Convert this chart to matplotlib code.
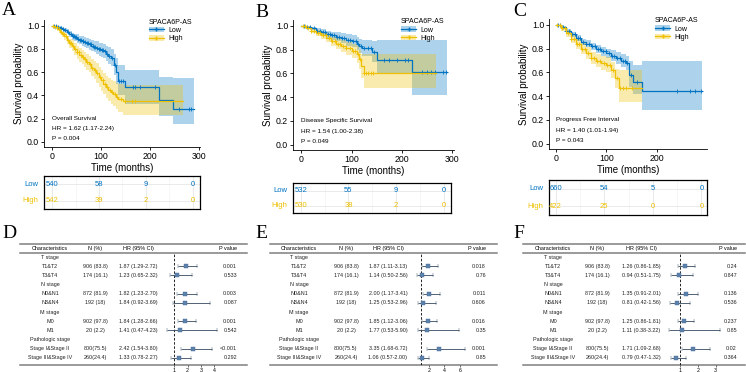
import numpy as np
import matplotlib.pyplot as plt
from matplotlib.lines import Line2D
from matplotlib.patches import Patch

plt.rcParams["font.family"] = ["Liberation Sans", "DejaVu Sans"]

BLUE = "#0073C2"
YELLOW = "#EFC000"
W, H = 746, 372

# ---------------- Kaplan-Meier data ----------------
# Panel A: Overall Survival
a_low_t = [0, 5, 10, 15, 20, 25, 30, 35, 40, 45, 50, 55, 60, 65, 70, 75, 80, 85, 90, 95,
           100, 105, 110, 115, 120, 126, 131, 134, 150, 218, 248]
a_low_s = [1.0, 0.998, 0.99, 0.985, 0.975, 0.965, 0.95, 0.93, 0.91, 0.90, 0.89, 0.88, 0.87,
           0.86, 0.85, 0.84, 0.83, 0.82, 0.81, 0.80, 0.79, 0.78, 0.76, 0.74, 0.72, 0.66,
           0.60, 0.52, 0.475, 0.36, 0.285]
a_low_lo = [1.0, 0.995, 0.985, 0.975, 0.96, 0.945, 0.93, 0.905, 0.88, 0.865, 0.855, 0.845,
            0.83, 0.82, 0.81, 0.795, 0.78, 0.77, 0.755, 0.74, 0.73, 0.72, 0.70, 0.67, 0.65,
            0.58, 0.50, 0.40, 0.33, 0.22, 0.15]
a_low_hi = [1.0, 1.0, 0.998, 0.995, 0.99, 0.985, 0.97, 0.955, 0.94, 0.93, 0.925, 0.915,
            0.91, 0.90, 0.895, 0.885, 0.88, 0.87, 0.865, 0.855, 0.85, 0.84, 0.83, 0.815,
            0.80, 0.76, 0.72, 0.66, 0.62, 0.56, 0.55]
a_low_end = 290
a_low_cens = [3, 8, 12, 18, 22, 27, 33, 38, 42, 44, 47, 49, 52, 56, 58, 62, 64, 67, 71, 73, 77,
              79, 83, 86, 88, 92, 96, 98, 102, 104, 108, 112, 117, 122, 128, 137, 140, 145,
              165, 170, 180, 210, 260, 280, 285]

a_high_t = [0, 5, 10, 15, 20, 25, 30, 35, 40, 45, 50, 55, 60, 65, 70, 75, 80, 85, 90, 95,
            100, 105, 110, 115, 120, 125, 130, 135, 145]
a_high_s = [1.0, 0.99, 0.97, 0.95, 0.93, 0.91, 0.88, 0.85, 0.83, 0.80, 0.77, 0.75, 0.73,
            0.71, 0.69, 0.67, 0.64, 0.62, 0.59, 0.56, 0.53, 0.50, 0.47, 0.45, 0.43, 0.41,
            0.39, 0.37, 0.35]
a_high_lo = [1.0, 0.98, 0.955, 0.93, 0.905, 0.88, 0.845, 0.81, 0.785, 0.75, 0.715, 0.69,
             0.67, 0.645, 0.62, 0.60, 0.565, 0.54, 0.505, 0.475, 0.44, 0.41, 0.375, 0.35,
             0.33, 0.31, 0.28, 0.26, 0.23]
a_high_hi = [1.0, 0.998, 0.985, 0.97, 0.955, 0.94, 0.915, 0.89, 0.875, 0.85, 0.825, 0.81,
             0.79, 0.775, 0.76, 0.74, 0.715, 0.70, 0.675, 0.645, 0.62, 0.595, 0.57, 0.55,
             0.53, 0.52, 0.51, 0.50, 0.49]
a_high_end = 268
a_high_cens = [2, 6, 9, 13, 17, 21, 24, 28, 32, 36, 39, 43, 46, 51, 54, 58, 62, 67, 72, 77,
               82, 87, 92, 98, 103, 108, 113, 118, 123, 128, 132, 140, 150, 163, 170]

# Panel B: Disease Specific Survival
b_low_t = [0, 10, 20, 30, 40, 50, 60, 70, 80, 90, 100, 110, 115, 120, 140, 150, 220]
b_low_s = [1.0, 0.99, 0.98, 0.96, 0.95, 0.93, 0.92, 0.91, 0.90, 0.88, 0.87, 0.85, 0.83,
           0.81, 0.78, 0.71, 0.61]
b_low_lo = [1.0, 0.98, 0.965, 0.94, 0.925, 0.90, 0.885, 0.87, 0.86, 0.835, 0.82, 0.795,
            0.77, 0.745, 0.70, 0.60, 0.42]
b_low_hi = [1.0, 0.998, 0.993, 0.98, 0.972, 0.96, 0.953, 0.947, 0.94, 0.93, 0.92, 0.905,
            0.89, 0.88, 0.87, 0.88, 0.88]
b_low_end = 290
b_low_cens = [5, 12, 18, 25, 31, 37, 43, 48, 53, 57, 62, 66, 72, 76, 82, 86, 92, 97, 103,
              108, 113, 118, 125, 132, 138, 145, 165, 175, 190, 205, 212, 240, 250, 258,
              265, 282, 288]

b_high_t = [0, 10, 20, 30, 40, 50, 60, 70, 80, 90, 100, 110, 115, 118, 124]
b_high_s = [1.0, 0.985, 0.96, 0.94, 0.92, 0.90, 0.87, 0.85, 0.83, 0.81, 0.79, 0.76, 0.72,
            0.66, 0.60]
b_high_lo = [1.0, 0.97, 0.94, 0.915, 0.89, 0.865, 0.83, 0.805, 0.78, 0.755, 0.73, 0.69,
             0.64, 0.56, 0.48]
b_high_hi = [1.0, 0.997, 0.98, 0.965, 0.95, 0.935, 0.91, 0.895, 0.88, 0.865, 0.85, 0.83,
             0.80, 0.76, 0.76]
b_high_end = 268
b_high_cens = [3, 8, 14, 20, 26, 33, 38, 44, 49, 55, 61, 67, 73, 78, 84, 90, 96, 102, 107,
               112, 116, 125, 128, 132, 138, 143]

# Panel C: Progress Free Interval
c_low_t = [0, 10, 20, 30, 40, 50, 60, 70, 80, 90, 100, 110, 120, 130, 140, 145, 152, 170]
c_low_s = [1.0, 0.98, 0.95, 0.92, 0.89, 0.86, 0.84, 0.82, 0.80, 0.78, 0.76, 0.74, 0.72,
           0.70, 0.68, 0.58, 0.52, 0.44]
c_low_lo = [1.0, 0.97, 0.935, 0.90, 0.865, 0.835, 0.81, 0.79, 0.765, 0.74, 0.72, 0.695,
            0.67, 0.645, 0.62, 0.48, 0.42, 0.28]
c_low_hi = [1.0, 0.99, 0.965, 0.94, 0.915, 0.885, 0.87, 0.85, 0.835, 0.815, 0.80, 0.785,
            0.77, 0.755, 0.74, 0.70, 0.66, 0.70]
c_low_end = 290
c_low_cens = [4, 9, 15, 21, 27, 33, 38, 44, 49, 55, 61, 66, 72, 77, 83, 88, 94, 99, 105,
              111, 116, 122, 127, 133, 138, 142, 148, 160, 240, 265, 275, 288]

c_high_t = [0, 10, 20, 30, 40, 50, 60, 70, 80, 90, 100, 110, 118, 125]
c_high_s = [1.0, 0.97, 0.93, 0.88, 0.84, 0.80, 0.76, 0.72, 0.70, 0.68, 0.665, 0.62, 0.55, 0.47]
c_high_lo = [1.0, 0.95, 0.90, 0.85, 0.80, 0.755, 0.71, 0.67, 0.645, 0.62, 0.60, 0.55, 0.47, 0.35]
c_high_hi = [1.0, 0.985, 0.955, 0.915, 0.88, 0.845, 0.81, 0.775, 0.755, 0.74, 0.73, 0.69,
             0.63, 0.62]
c_high_end = 170
c_high_cens = [3, 8, 13, 19, 24, 30, 36, 42, 47, 53, 58, 64, 70, 76, 82, 88, 95, 102, 108,
               114, 121, 127, 133, 140, 150]

# risk tables
risk_times = [0, 96, 192, 288]
a_risk_low = [540, 58, 9, 0]
a_risk_high = [542, 39, 2, 0]
b_risk_low = [532, 55, 9, 0]
b_risk_high = [530, 38, 2, 0]
c_risk_low = [660, 54, 5, 0]
c_risk_high = [422, 25, 0, 0]

# ---------------- Forest (Cox) tables ----------------
row_labels = ["T stage", "T1&T2", "T3&T4", "N stage", "N0&N1", "N3&N4",
              "M stage", "M0", "M1", "Pathologic stage", "Stage I&Stage II", "Stage III&Stage IV"]
data_rows = [1, 2, 4, 5, 7, 8, 10, 11]
n_pct = ["906 (83.8)", "174 (16.1)", "872 (81.9)", "192 (18)", "902 (97.8)", "20 (2.2)",
         "800(75.5)", "260(24.4)"]

d_hr = [1.87, 1.23, 1.82, 1.84, 1.84, 1.41, 2.42, 1.33]
d_lo = [1.29, 0.65, 1.23, 0.92, 1.28, 0.47, 1.54, 0.78]
d_hi = [2.72, 2.32, 2.70, 3.69, 2.66, 4.23, 3.80, 2.27]
d_p = ["0.001", "0.533", "0.003", "0.087", "0.001", "0.542", "<0.001", "0.292"]

e_hr = [1.87, 1.14, 2.00, 1.25, 1.85, 1.77, 3.35, 1.06]
e_lo = [1.11, 0.50, 1.17, 0.53, 1.12, 0.53, 1.68, 0.57]
e_hi = [3.13, 2.56, 3.41, 2.96, 3.06, 5.90, 6.72, 2.00]
e_p = ["0.018", "0.76", "0.011", "0.606", "0.016", "0.35", "0.001", "0.85"]

f_hr = [1.26, 0.94, 1.35, 0.81, 1.25, 1.11, 1.71, 0.79]
f_lo = [0.86, 0.51, 0.91, 0.42, 0.86, 0.38, 1.09, 0.47]
f_hi = [1.85, 1.75, 2.01, 1.56, 1.81, 3.22, 2.68, 1.32]
f_p = ["0.24", "0.847", "0.136", "0.536", "0.237", "0.85", "0.02", "0.364"]


fig = plt.figure(figsize=(W / 100, H / 100), dpi=100)
ov = fig.add_axes([0, 0, 1, 1])
ov.set_xlim(0, W)
ov.set_ylim(H, 0)
ov.axis("off")


def px_axes(l, t, r, b):
    return fig.add_axes([l / W, 1 - b / H, (r - l) / W, (b - t) / H])


def surv_at(t, s, x):
    idx = np.searchsorted(t, x, side="right") - 1
    return np.asarray(s)[idx]


def draw_curve(ax, t, s, lo, hi, end, cens, col):
    tt = np.append(t, end)
    ax.fill_between(tt, np.append(lo, lo[-1]), np.append(hi, hi[-1]),
                    step="post", color=col, alpha=0.32, lw=0)
    ax.step(tt, np.append(s, s[-1]), where="post", color=col, lw=0.9)
    cens = np.asarray(cens)
    ax.plot(cens, surv_at(t, s, cens), "+", color=col, ms=3.2, mew=0.6)


def km_panel(box, xlim, xticks, curves, lines):
    ax = px_axes(*box)
    for c in curves:
        draw_curve(ax, *c)
    ax.set_xlim(*xlim)
    ax.set_ylim(-0.045, 1.05)
    ax.set_xticks(xticks)
    ax.set_yticks([0, 0.2, 0.4, 0.6, 0.8, 1.0])
    ax.set_yticklabels(["0.0", "0.2", "0.4", "0.6", "0.8", "1.0"])
    for sp in ["top", "right"]:
        ax.spines[sp].set_visible(False)
    for sp in ["left", "bottom"]:
        ax.spines[sp].set_linewidth(0.6)
    ax.tick_params(labelsize=6.3, length=2, width=0.6, pad=1.5)
    ax.set_xlabel("Time (months)", fontsize=7, labelpad=1.5)
    ax.set_ylabel("Survival probability", fontsize=7, labelpad=2)
    for k, txt in enumerate(lines):
        ax.text(0, 0.2 - 0.085 * k, txt, fontsize=4.6, va="center", ha="left")
    handles = [(Patch(facecolor=BLUE, alpha=0.32, lw=0),
                Line2D([], [], color=BLUE, marker="+", ms=3.2, lw=0.9)),
               (Patch(facecolor=YELLOW, alpha=0.32, lw=0),
                Line2D([], [], color=YELLOW, marker="+", ms=3.2, lw=0.9))]
    ax.legend(handles, ["Low", "High"], title="SPACA6P-AS", loc="upper left",
              bbox_to_anchor=(0.64, 1.05), frameon=False, fontsize=5, title_fontsize=5,
              alignment="left", handlelength=2.2, handleheight=0.9, labelspacing=0.15,
              borderpad=0.2, handletextpad=0.6)
    return ax


def risk_panel(box, xlim, low, high):
    ax = px_axes(*box)
    ax.set_xlim(*xlim)
    ax.set_ylim(0.5, 2.5)
    mids = [(risk_times[i] + risk_times[i + 1]) / 2 for i in range(len(risk_times) - 1)]
    for x in risk_times:
        ax.axvline(x, color="#E6E6E6", lw=0.6, zorder=0)
    for x in mids:
        ax.axvline(x, color="#F0F0F0", lw=0.4, zorder=0)
    for y in [1, 2]:
        ax.axhline(y, color="#E6E6E6", lw=0.6, zorder=0)
    for x, lv, hv in zip(risk_times, low, high):
        ax.text(x, 2, str(lv), color=BLUE, fontsize=5.5, ha="center", va="center")
        ax.text(x, 1, str(hv), color=YELLOW, fontsize=5.5, ha="center", va="center")
    ax.set_xticks([])
    ax.set_yticks([])
    for sp in ax.spines.values():
        sp.set_linewidth(0.9)
    ax.text(-0.035, 0.75, "Low", transform=ax.transAxes, color=BLUE, fontsize=5.5,
            ha="right", va="center")
    ax.text(-0.035, 0.25, "High", transform=ax.transAxes, color=YELLOW, fontsize=5.5,
            ha="right", va="center")


km_panel((44, 20, 200, 147), (-17, 303), [0, 100, 200, 300],
         [(a_low_t, a_low_s, a_low_lo, a_low_hi, a_low_end, a_low_cens, BLUE),
          (a_high_t, a_high_s, a_high_lo, a_high_hi, a_high_end, a_high_cens, YELLOW)],
         ["Overall Survival", "HR = 1.62 (1.17-2.24)", "P = 0.004"])
risk_panel((44, 176, 200, 209), (-17, 303), a_risk_low, a_risk_high)

km_panel((293, 20, 454, 150), (-16, 303), [0, 100, 200, 300],
         [(b_low_t, b_low_s, b_low_lo, b_low_hi, b_low_end, b_low_cens, BLUE),
          (b_high_t, b_high_s, b_high_lo, b_high_hi, b_high_end, b_high_cens, YELLOW)],
         ["Disease Specific Survival", "HR = 1.54 (1.00-2.38)", "P = 0.049"])
risk_panel((293, 183, 451, 213), (-16, 303), b_risk_low, b_risk_high)

km_panel((549, 19, 707, 149), (-13, 299), [0, 100, 200],
         [(c_low_t, c_low_s, c_low_lo, c_low_hi, c_low_end, c_low_cens, BLUE),
          (c_high_t, c_high_s, c_high_lo, c_high_hi, c_high_end, c_high_cens, YELLOW)],
         ["Progress Free Interval", "HR = 1.40 (1.01-1.94)", "P = 0.043"])
risk_panel((549, 180, 707, 215), (-13, 299), c_risk_low, c_risk_high)


# ---------------- forest panels ----------------
ROW0, ROWH = 257, 9.18
FS = 3.9


def forest_panel(x0, x1, cols, fbox, fxlim, fticks, hr, lo, hi, pv):
    c_char, c_n, c_hr, c_p = cols
    for y in (244, 253, 365):
        ov.plot([x0, x1], [y, y], color="#7F7F7F", lw=1.1)
    ov.text(c_char, 248.5, "Characteristics", fontsize=FS, ha="center", va="center")
    ov.text(c_n, 248.5, "N (%)", fontsize=FS, ha="center", va="center")
    ov.text(c_hr, 248.5, "HR (95% CI)", fontsize=FS, ha="center", va="center")
    ov.text(c_p, 248.5, "P value", fontsize=FS, ha="right", va="center")
    for i, lab in enumerate(row_labels):
        ov.text(c_char, ROW0 + ROWH * i, lab, fontsize=FS, ha="center", va="center",
                color="#222222")
    for k, r in enumerate(data_rows):
        y = ROW0 + ROWH * r
        ov.text(c_n, y, n_pct[k], fontsize=FS, ha="center", va="center", color="#222222")
        ov.text(c_hr, y, f"{hr[k]:.2f} ({lo[k]:.2f}-{hi[k]:.2f})", fontsize=FS,
                ha="center", va="center", color="#222222")
        ov.text(c_p, y, pv[k], fontsize=FS, ha="right", va="center", color="#222222")

    fa = px_axes(fbox[0], 253, fbox[1], 365)
    fa.patch.set_alpha(0)
    fa.set_xlim(*fxlim)
    fa.set_ylim((365 - ROW0) / ROWH, (253 - ROW0) / ROWH)
    fa.axvline(1, color="black", lw=0.6, ls=(0, (3, 2)))
    hr_a = np.array(hr)
    fa.errorbar(hr_a, data_rows, xerr=[hr_a - np.array(lo), np.array(hi) - hr_a],
                fmt="s", ms=2.4, mfc="#5B82AC", mec="#4A6E96", mew=0.3,
                ecolor="#34495E", elinewidth=0.6, capsize=1.2, capthick=0.5)
    fa.set_xticks(fticks)
    fa.set_yticks([])
    for sp in fa.spines.values():
        sp.set_visible(False)
    fa.tick_params(axis="x", labelsize=3.8, length=1.3, width=0.4, pad=0.6)


forest_panel(20, 247, (50, 95, 138, 237), (162.3, 222.2), (0.1, 4.6), [1, 2, 3, 4],
             d_hr, d_lo, d_hi, d_p)
forest_panel(270, 497, (299, 346, 388, 486), (413.6, 469.0), (0.0, 7.2), [2, 4, 6],
             e_hr, e_lo, e_hi, e_p)
forest_panel(523, 745, (553, 597, 641, 737), (665.8, 724.5), (0.2, 3.5), [1, 2, 3],
             f_hr, f_lo, f_hi, f_p)

# panel letters
for lab, x, y in [("A", 2, 15), ("B", 255, 17), ("C", 513, 16.5),
                  ("D", 2, 238), ("E", 255, 238), ("F", 513, 238)]:
    ov.text(x, y, lab, fontsize=14, family="Liberation Serif", ha="left", va="baseline")

fig.savefig("out.png", dpi=100)
